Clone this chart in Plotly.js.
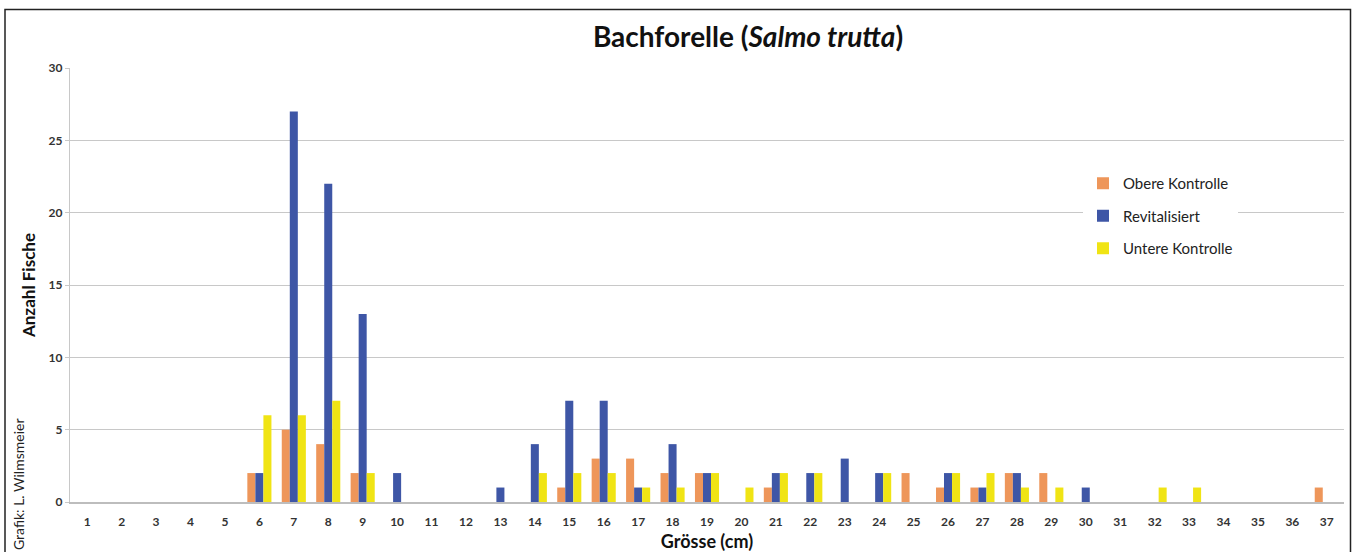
<!DOCTYPE html>
<html>
<head>
<meta charset="utf-8">
<script src="https://cdn.plot.ly/plotly-3.0.1.min.js"></script>
<style>
html,body{margin:0;padding:0;background:#fff;}
#chart{width:1352px;height:552px;}
</style>
</head>
<body>
<div id="chart"></div>
<script>
const categories = ['1','2','3','4','5','6','7','8','9','10','11','12','13','14','15','16','17','18','19','20','21','22','23','24','25','26','27','28','29','30','31','32','33','34','35','36','37'];
const obereKontrolle = [0,0,0,0,0,2,5,4,2,0,0,0,0,0,1,3,3,2,2,0,1,0,0,0,2,1,1,2,2,0,0,0,0,0,0,0,1];
const revitalisiert  = [0,0,0,0,0,2,27,22,13,2,0,0,1,4,7,7,1,4,2,0,2,2,3,2,0,2,1,2,0,1,0,0,0,0,0,0,0];
const untereKontrolle= [0,0,0,0,0,6,6,7,2,0,0,0,0,2,2,2,1,1,2,1,2,2,0,2,0,2,2,1,1,0,0,1,1,0,0,0,0];
const seriesNames = ['Obere Kontrolle','Revitalisiert','Untere Kontrolle'];
const seriesColors = ['#EE965A','#3E56A6','#F0E414'];

const W = 1352, H = 552;
const mL = 70, mR = 8, mT = 68, mB = 50;
const pw = W - mL - mR, ph = H - mT - mB;
const px = v => (v - mL) / pw;
const py = v => (H - mB - v) / ph;

const font = "Lato, 'Open Sans', sans-serif";
const data = [obereKontrolle, revitalisiert, untereKontrolle].map((vals, i) => ({
  type: 'bar',
  name: seriesNames[i],
  x: categories,
  y: vals,
  marker: {color: seriesColors[i], line: {width: 0}},
  legendgroup: 'g' + i,
  hoverinfo: 'x+y+name'
}));

const layout = {
  width: W, height: H,
  margin: {l: mL, r: mR, t: mT, b: mB, pad: 0},
  paper_bgcolor: '#fff', plot_bgcolor: '#fff',
  font: {family: font, color: '#222'},
  barmode: 'group', bargap: 0.3, bargroupgap: 0,
  title: {
    text: 'Bachforelle (<i>Salmo trutta</i>)',
    font: {family: font, size: 28, weight: 'bold', color: '#111'},
    x: 748 / W, xanchor: 'center', xref: 'container',
    y: 1 - 37 / H, yanchor: 'middle', yref: 'container'
  },
  xaxis: {
    type: 'category',
    showgrid: false, zeroline: false,
    showline: true, linecolor: '#bdbdbd', linewidth: 1.5,
    ticks: '', tickfont: {family: font, size: 12, weight: 'bold', color: '#333'},
    ticklabelstandoff: 8,
    title: {text: 'Grösse (cm)', font: {family: font, size: 18, weight: 'bold', color: '#111'}, standoff: 11}
  },
  yaxis: {
    range: [0, 30], dtick: 5,
    showgrid: true, gridcolor: '#c8c8c8', gridwidth: 1,
    zeroline: false,
    showline: true, linecolor: '#c8c8c8', linewidth: 1.2,
    ticks: 'outside', ticklen: 4, tickcolor: '#c8c8c8',
    tickfont: {family: font, size: 12, weight: 'bold', color: '#333'},
    title: {text: 'Anzahl Fische', font: {family: font, size: 17, weight: 'bold', color: '#111'}, standoff: 8}
  },
  showlegend: true,
  legend: {
    x: px(1083), y: py(167), xanchor: 'left', yanchor: 'top',
    bgcolor: '#fff', borderwidth: 0,
    font: {family: font, size: 15, color: '#222'},
    traceorder: 'grouped', tracegroupgap: 10,
    itemwidth: 30
  },
  annotations: [{
    text: 'Grafik: L. Wilmsmeier',
    xref: 'paper', yref: 'paper',
    x: px(18), y: py(484),
    textangle: -90, showarrow: false,
    xanchor: 'center', yanchor: 'middle',
    font: {family: font, size: 14, color: '#222'}
  }],
  shapes: [{
    type: 'rect', xref: 'paper', yref: 'paper',
    x0: px(5), x1: px(1350.5), y0: py(560), y1: py(9.5),
    line: {color: '#222', width: 1.5}, fillcolor: 'rgba(0,0,0,0)', layer: 'above'
  }]
};

Plotly.newPlot('chart', data, layout, {displayModeBar: false, staticPlot: true});
</script>
</body>
</html>
